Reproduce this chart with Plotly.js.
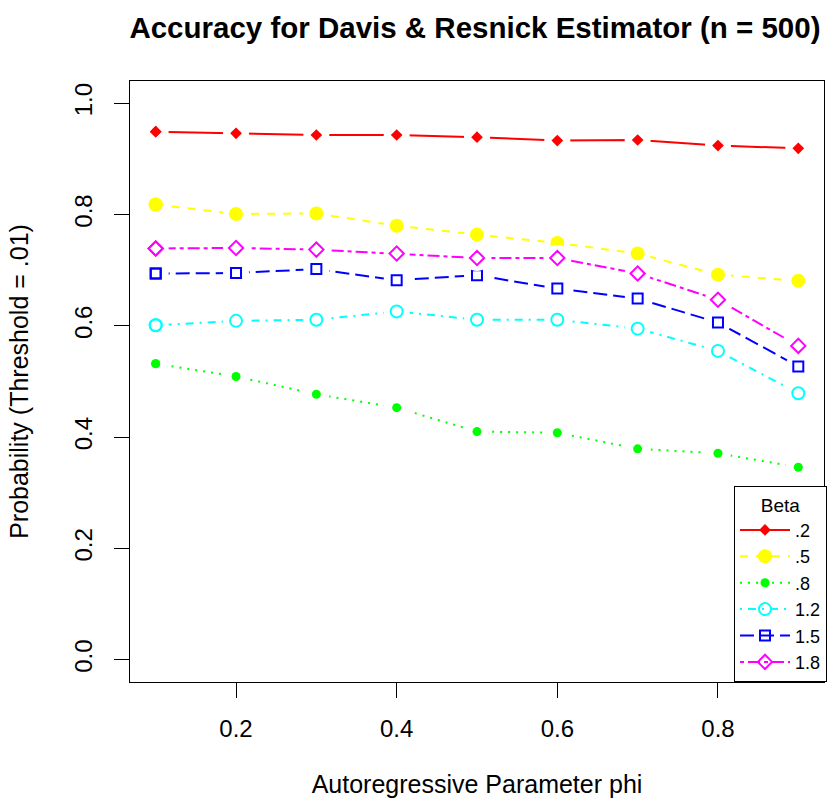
<!DOCTYPE html>
<html>
<head>
<meta charset="utf-8">
<script src="https://cdn.plot.ly/plotly-3.0.1.min.js"></script>
<style>
  html, body { margin: 0; padding: 0; background: #ffffff; }
  #chart { width: 827px; height: 806px; }
</style>
</head>
<body>
<div id="chart"></div>
<script>
// Autoregressive parameter values on the x axis
const phi = [0.1, 0.2, 0.3, 0.4, 0.5, 0.6, 0.7, 0.8, 0.9];

// Legend labels for the tail index beta
const betaLabels = ['.2', '.5', '.8', '1.2', '1.5', '1.8'];

// Estimated probability of a correct call, one array per beta
const accBeta02 = [0.949, 0.946, 0.943, 0.943, 0.939, 0.933, 0.934, 0.924, 0.919];
const accBeta05 = [0.818, 0.801, 0.802, 0.780, 0.764, 0.749, 0.730, 0.692, 0.681];
const accBeta08 = [0.532, 0.509, 0.477, 0.453, 0.410, 0.408, 0.379, 0.371, 0.346];
const accBeta12 = [0.601, 0.609, 0.611, 0.626, 0.611, 0.611, 0.595, 0.555, 0.479];
const accBeta15 = [0.694, 0.695, 0.702, 0.682, 0.691, 0.667, 0.649, 0.606, 0.527];
const accBeta18 = [0.739, 0.740, 0.737, 0.730, 0.722, 0.722, 0.694, 0.647, 0.564];

// Axis tick labels
const xTickVals = [0.2, 0.4, 0.6, 0.8];
const xTickText = ['0.2', '0.4', '0.6', '0.8'];
const yTickVals = [0, 0.2, 0.4, 0.6, 0.8, 1.0];
const yTickText = ['0.0', '0.2', '0.4', '0.6', '0.8', '1.0'];

const FONT = 'Liberation Sans, Arial, Helvetica, sans-serif';

// Per-series drawing style (lines with a small break around each symbol)
const series = [
  { y: accBeta02, color: '#FF0000', dash: 'solid',            symbol: 'diamond',      size: 9,  lw: 0 },
  { y: accBeta05, color: '#FFFF00', dash: '8px,8px',          symbol: 'circle',       size: 14, lw: 0 },
  { y: accBeta08, color: '#00FF00', dash: '2px,6px',          symbol: 'circle',       size: 9,  lw: 0 },
  { y: accBeta12, color: '#00FFFF', dash: '2px,6px,8px,6px',  symbol: 'circle-open',  size: 12, lw: 2 },
  { y: accBeta15, color: '#0000FF', dash: '14px,6px',         symbol: 'square-open',  size: 10, lw: 2 },
  { y: accBeta18, color: '#FF00FF', dash: '4px,4px,12px,4px', symbol: 'diamond-open', size: 11, lw: 2 }
];

const traces = [];
series.forEach((s, i) => {
  const sym = { color: s.color, size: s.size, symbol: s.symbol,
                line: { color: s.color, width: s.lw } };
  // connecting line; its white disks open a gap around every point
  traces.push({
    x: phi, y: s.y, type: 'scatter', mode: 'lines+markers',
    line: { color: s.color, width: 2, dash: s.dash },
    marker: { color: '#ffffff', size: 26, symbol: 'circle', line: { width: 0 } },
    showlegend: false, hoverinfo: 'skip'
  });
  // point symbols
  traces.push({
    x: phi, y: s.y, type: 'scatter', mode: 'markers', name: betaLabels[i],
    marker: sym, showlegend: false
  });
  // legend key: first point only, so no extra line is drawn in the plot
  traces.push({
    x: phi.slice(0, 1), y: s.y.slice(0, 1), type: 'scatter', mode: 'lines+markers',
    name: betaLabels[i],
    line: { color: s.color, width: 2, dash: s.dash },
    marker: sym, hoverinfo: 'skip'
  });
});

const layout = {
  width: 827, height: 806,
  paper_bgcolor: '#ffffff', plot_bgcolor: '#ffffff',
  margin: { l: 130, r: 3, t: 81, b: 124, autoexpand: false },
  font: { family: FONT, color: '#000000', size: 22 },
  title: {
    text: '<b>Accuracy for Davis & Resnick Estimator (n = 500)</b>',
    font: { family: FONT, size: 29.5, color: '#000000' },
    xref: 'paper', x: 0.497, xanchor: 'center',
    yref: 'container', y: 1 - 28 / 806, yanchor: 'middle'
  },
  xaxis: {
    range: [0.068, 0.932],
    tickmode: 'array', tickvals: xTickVals, ticktext: xTickText,
    ticks: 'outside', ticklen: 15, tickwidth: 1, tickcolor: '#000000',
    ticklabelstandoff: 10,
    showline: true, mirror: true, linecolor: '#000000', linewidth: 1,
    showgrid: false, zeroline: false,
    tickfont: { family: FONT, size: 24 },
    title: { text: 'Autoregressive Parameter phi', font: { family: FONT, size: 25 }, standoff: 34 }
  },
  yaxis: {
    range: [-0.04, 1.04],
    tickmode: 'array', tickvals: yTickVals, ticktext: yTickText,
    tickangle: -90,
    ticks: 'outside', ticklen: 15, tickwidth: 1, tickcolor: '#000000',
    ticklabelstandoff: 12,
    showline: true, mirror: true, linecolor: '#000000', linewidth: 1,
    showgrid: false, zeroline: false,
    tickfont: { family: FONT, size: 24 },
    title: { text: 'Probability (Threshold = .01)', font: { family: FONT, size: 25 }, standoff: 34 }
  },
  legend: {
    x: (734 - 130) / 694, xanchor: 'left', xref: 'paper',
    y: 0, yanchor: 'bottom', yref: 'paper',
    bgcolor: '#ffffff', bordercolor: '#000000', borderwidth: 1,
    font: { family: FONT, size: 18, color: '#000000' },
    title: { text: 'Beta', side: 'top center', font: { family: FONT, size: 19 } },
    itemwidth: 50, tracegroupgap: 0
  },
  showlegend: true
};

Plotly.newPlot('chart', traces, layout, { displayModeBar: false, staticPlot: true });
</script>
</body>
</html>
